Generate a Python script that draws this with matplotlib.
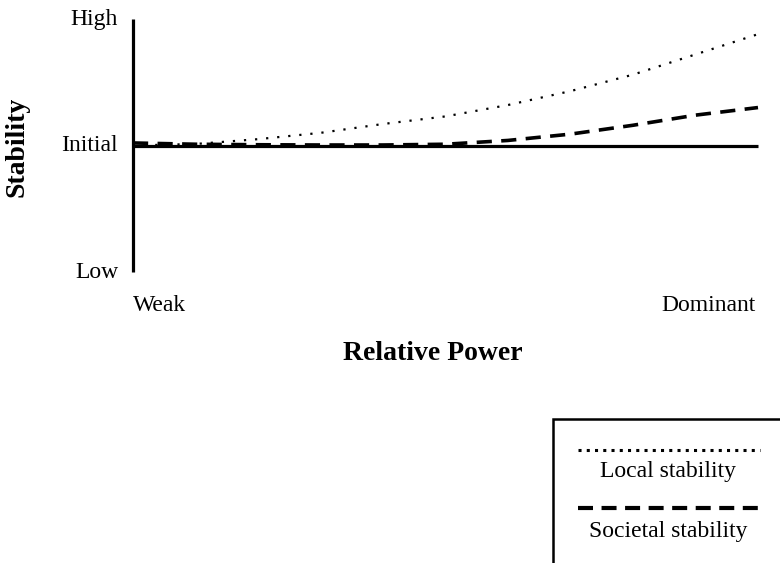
import numpy as np
import matplotlib
matplotlib.use('Agg')
import matplotlib.pyplot as plt
from matplotlib.lines import Line2D
from matplotlib.patches import Rectangle

plt.rcParams['font.family'] = ['Liberation Serif', 'DejaVu Serif']

# relative power (0 = weak, 1 = dominant)
power = [0.0, 0.1, 0.2, 0.3, 0.4, 0.5, 0.6, 0.7, 0.8, 0.9, 1.0]
# stability (0 = low, 0.5 = initial, 1 = high)
local_stab = [0.50, 0.506, 0.525, 0.55, 0.585, 0.615, 0.66, 0.715, 0.78, 0.86, 0.94]
societal_stab = [0.51, 0.505, 0.503, 0.502, 0.502, 0.505, 0.52, 0.545, 0.58, 0.62, 0.65]
initial = 0.5
y_ticks = [0.0, 0.5, 1.0]
y_labels = ['Low', 'Initial', 'High']
x_labels = ['Weak', 'Dominant']

W, H = 780, 563
fig = plt.figure(figsize=(W / 100, H / 100), dpi=100)

def fx(px):
    return px / W

def fy(py):
    return 1 - py / H

ax = fig.add_axes([fx(133), fy(272), fx(758) - fx(133), fy(19) - fy(272)])
ax.set_xlim(0, 1)
ax.set_ylim(0, 1)
ax.axis('off')

# axes drawn by hand
ax.plot([0, 0], [0, 1], color='black', lw=2.3, solid_capstyle='butt', clip_on=False)
ax.plot([0, 1], [initial, initial], color='black', lw=2.3, solid_capstyle='butt', clip_on=False)

ax.plot(power, local_stab, color='black', lw=1.6, dashes=(1, 4.0), clip_on=False)
ax.plot(power, societal_stab, color='black', lw=2.6, dashes=(4.2, 2.6), clip_on=False)

for yv, lab in zip(y_ticks, y_labels):
    ax.text(-0.024, yv, lab, ha='right', va='center', fontsize=17)

fig.text(fx(133), fy(305), x_labels[0], ha='left', va='center', fontsize=17)
fig.text(fx(756), fy(305), x_labels[1], ha='right', va='center', fontsize=17)
fig.text(fx(433), fy(353), 'Relative Power', ha='center', va='center',
         fontsize=20, fontweight='bold')
fig.text(fx(17), fy(147), 'Stability', ha='center', va='center',
         fontsize=20, fontweight='bold', rotation=90)

# legend box (runs off the edge of the figure)
fig.add_artist(Rectangle((fx(553), fy(600)), fx(260), fy(419) - fy(600),
                         transform=fig.transFigure, fill=False,
                         edgecolor='black', lw=1.8))
fig.add_artist(Line2D([fx(578), fx(760)], [fy(450), fy(450)], transform=fig.transFigure,
                      color='black', lw=2.2, dashes=(1, 1.7)))
fig.text(fx(668), fy(472), 'Local stability', ha='center', va='center', fontsize=17)
fig.add_artist(Line2D([fx(578), fx(760)], [fy(508), fy(508)], transform=fig.transFigure,
                      color='black', lw=3.0, dashes=(3.6, 2.05)))
fig.text(fx(668), fy(532), 'Societal stability', ha='center', va='center', fontsize=17)

fig.savefig('out.png', dpi=100)
